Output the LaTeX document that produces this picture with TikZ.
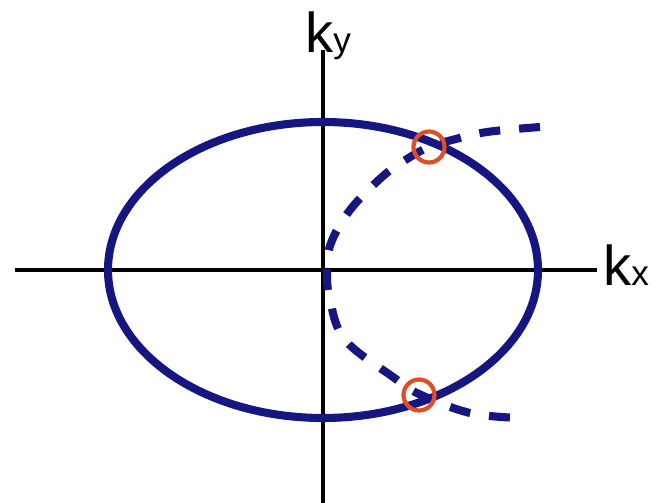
\documentclass[tikz,border=0pt]{standalone}
\usepackage{fontspec}
\setmainfont{Liberation Sans}
\definecolor{curveblue}{RGB}{22,22,128}
\definecolor{markred}{RGB}{222,78,40}
\begin{document}
\begin{tikzpicture}[x=0.02cm, y=-0.02cm,
  axis/.style={black, line width=2.2pt},
  surface/.style={curveblue, line width=4.6pt},
  branch/.style={curveblue, line width=4.6pt, dash pattern=on 0.42cm off 0.38cm},
  crossing/.style={circle, draw=markred, line width=2.4pt, minimum size=0.62cm, inner sep=0pt},
  axlabel/.style={inner sep=0pt, anchor=base west, font=\fontsize{32}{32}\selectfont}]
\useasboundingbox (0,0) rectangle (663,503);
% axes
\coordinate (xl) at (15,270);
\coordinate (xr) at (597,270);
\coordinate (yb) at (323,503);
\coordinate (yt) at (323,50);
\draw[axis] (xl) -- (xr);
\draw[axis] (yb) -- (yt);
\node[axlabel] (kx) at (603,286) {k{\fontsize{20}{20}\selectfont x}};
\node[axlabel] (ky) at (305,53) {k{\fontsize{20}{20}\selectfont y}};
% Fermi surface
\draw[surface] (323,270) ellipse[x radius=215, y radius=148];
% open branch
\draw[branch] plot[smooth, tension=0.6] coordinates {(540,127) (487,132) (452,140) (429,147) (407,159) (382,177) (350,210) (331,243) (327,270) (330,300) (345,340) (393,377) (419,394) (470,413) (520,418)};
% crossing points
\node[crossing] (p1) at (429,147) {};
\node[crossing] (p2) at (419,395) {};
\end{tikzpicture}
\end{document}
